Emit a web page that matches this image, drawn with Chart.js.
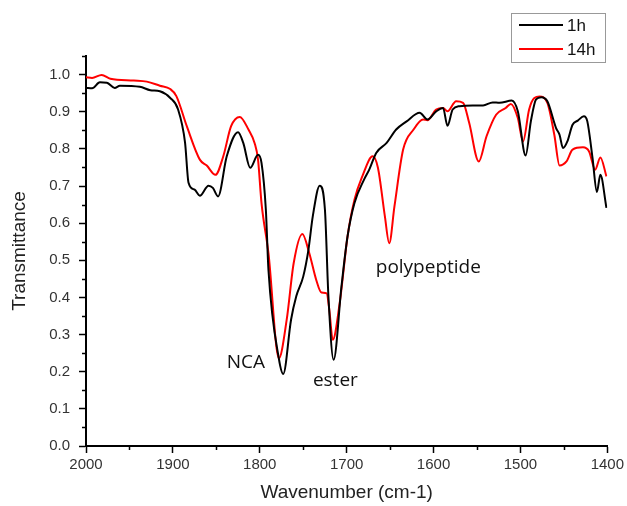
<!DOCTYPE html>
<html>
<head>
<meta charset="utf-8">
<script src="https://cdn.jsdelivr.net/npm/chart.js@4/dist/chart.umd.min.js"></script>
<style>
  html, body { margin: 0; padding: 0; background: #fff; }
  canvas { display: block; }
</style>
</head>
<body>
<canvas id="ir-chart" width="627" height="506"></canvas>
<script>
// wavenumber (cm-1) and transmittance
const wn1h = [2000, 1993, 1984, 1976, 1967, 1961, 1938, 1926, 1915, 1903, 1894, 1886, 1882, 1875, 1869, 1859, 1854, 1848, 1838, 1825, 1819, 1811, 1802, 1798, 1793, 1790, 1778, 1773, 1764, 1758, 1750, 1744, 1739, 1731, 1725, 1721, 1715, 1706, 1699, 1691, 1680, 1674, 1666, 1654, 1643, 1631, 1616, 1607, 1597, 1589, 1584, 1578, 1570, 1555, 1543, 1532, 1524, 1510, 1503, 1494, 1488, 1482, 1476, 1469, 1459, 1455, 1451, 1446, 1440, 1434, 1427, 1423, 1417, 1412, 1408, 1401];
const t1h = [0.964, 0.963, 0.979, 0.978, 0.964, 0.970, 0.967, 0.958, 0.955, 0.937, 0.906, 0.817, 0.709, 0.690, 0.674, 0.701, 0.695, 0.672, 0.780, 0.845, 0.816, 0.749, 0.784, 0.762, 0.636, 0.474, 0.235, 0.194, 0.340, 0.403, 0.456, 0.528, 0.618, 0.701, 0.636, 0.403, 0.232, 0.429, 0.564, 0.654, 0.717, 0.744, 0.789, 0.816, 0.852, 0.874, 0.897, 0.879, 0.901, 0.910, 0.862, 0.906, 0.915, 0.917, 0.917, 0.925, 0.924, 0.930, 0.901, 0.782, 0.874, 0.933, 0.939, 0.928, 0.856, 0.838, 0.802, 0.820, 0.865, 0.876, 0.888, 0.874, 0.775, 0.684, 0.730, 0.641];

const wn14h = [2000, 1993, 1982, 1972, 1945, 1930, 1915, 1903, 1896, 1884, 1869, 1861, 1851, 1842, 1833, 1823, 1813, 1806, 1802, 1798, 1790, 1778, 1769, 1761, 1751, 1743, 1735, 1729, 1723, 1720, 1716, 1708, 1699, 1691, 1682, 1670, 1664, 1656, 1651, 1645, 1635, 1623, 1612, 1607, 1597, 1589, 1584, 1574, 1566, 1559, 1548, 1539, 1528, 1517, 1511, 1503, 1497, 1490, 1484, 1478, 1469, 1461, 1455, 1447, 1440, 1428, 1421, 1414, 1408, 1401];
const t14h = [0.993, 0.991, 0.999, 0.989, 0.984, 0.981, 0.970, 0.961, 0.942, 0.861, 0.771, 0.755, 0.730, 0.780, 0.861, 0.886, 0.852, 0.816, 0.771, 0.654, 0.519, 0.236, 0.340, 0.492, 0.571, 0.519, 0.447, 0.413, 0.411, 0.367, 0.286, 0.385, 0.564, 0.663, 0.726, 0.780, 0.749, 0.618, 0.546, 0.645, 0.798, 0.852, 0.879, 0.877, 0.906, 0.910, 0.901, 0.928, 0.924, 0.870, 0.766, 0.834, 0.892, 0.910, 0.921, 0.883, 0.820, 0.906, 0.937, 0.941, 0.924, 0.838, 0.755, 0.766, 0.798, 0.804, 0.793, 0.744, 0.777, 0.726];

const seriesNames = ['1h', '14h'];
const seriesColors = ['#000000', '#ff0000'];

const annoText = ['NCA', 'ester', 'polypeptide'];
const annoX = [1816, 1713, 1606];
const annoY = [0.224, 0.175, 0.480];

const xMinorTicks = [1950, 1850, 1750, 1650, 1550, 1450];
const yMinorTicks = [0.05, 0.15, 0.25, 0.35, 0.45, 0.55, 0.65, 0.75, 0.85, 0.95, 1.05];

const toPoints = (xs, ys) => xs.map((x, i) => ({ x: x, y: ys[i] }));

const extrasPlugin = {
  id: 'extras',
  afterDraw(chart) {
    const ctx = chart.ctx;
    const xs = chart.scales.x;
    const ys = chart.scales.y;
    const area = chart.chartArea;

    // minor ticks
    ctx.save();
    ctx.strokeStyle = '#000';
    ctx.lineWidth = 1.5;
    ctx.beginPath();
    xMinorTicks.forEach(v => {
      const px = Math.round(xs.getPixelForValue(v)) + 0.5;
      ctx.moveTo(px, area.bottom);
      ctx.lineTo(px, area.bottom + 4);
    });
    yMinorTicks.forEach(v => {
      const py = Math.round(ys.getPixelForValue(v)) + 0.5;
      ctx.moveTo(area.left, py);
      ctx.lineTo(area.left - 4, py);
    });
    ctx.stroke();

    // peak labels
    ctx.fillStyle = '#111';
    ctx.font = '19px "Open Sans"';
    ctx.textAlign = 'center';
    ctx.textBaseline = 'middle';
    annoText.forEach((t, i) => {
      ctx.fillText(t, xs.getPixelForValue(annoX[i]), ys.getPixelForValue(annoY[i]));
    });

    // legend box
    ctx.fillStyle = '#fff';
    ctx.fillRect(511, 13, 94, 49);
    ctx.strokeStyle = '#999';
    ctx.lineWidth = 1;
    ctx.strokeRect(511.5, 13.5, 94, 49);
    ctx.font = '17px "Liberation Sans", Arial, sans-serif';
    ctx.textAlign = 'left';
    seriesNames.forEach((name, i) => {
      const y = 25 + i * 24;
      ctx.strokeStyle = seriesColors[i];
      ctx.lineWidth = 2;
      ctx.beginPath();
      ctx.moveTo(519, y);
      ctx.lineTo(563, y);
      ctx.stroke();
      ctx.fillStyle = '#111';
      ctx.fillText(name, 567, y + 1);
    });
    ctx.restore();
  }
};

const tickFont = { family: '"Liberation Sans", Arial, sans-serif', size: 15 };
const titleFont = { family: '"Liberation Sans", Arial, sans-serif', size: 19 };

new Chart(document.getElementById('ir-chart'), {
  type: 'line',
  data: {
    datasets: [
      {
        label: seriesNames[0],
        data: toPoints(wn1h, t1h),
        borderColor: seriesColors[0],
        backgroundColor: seriesColors[0],
        borderWidth: 2,
        pointRadius: 0,
        cubicInterpolationMode: 'monotone',
        fill: false
      },
      {
        label: seriesNames[1],
        data: toPoints(wn14h, t14h),
        borderColor: seriesColors[1],
        backgroundColor: seriesColors[1],
        borderWidth: 2,
        pointRadius: 0,
        cubicInterpolationMode: 'monotone',
        fill: false
      }
    ]
  },
  options: {
    responsive: false,
    animation: false,
    layout: { padding: { top: 56, right: 19, left: 0, bottom: 0 } },
    plugins: {
      legend: { display: false },
      tooltip: { enabled: false }
    },
    scales: {
      x: {
        type: 'linear',
        reverse: true,
        min: 1400,
        max: 2000,
        afterFit: scale => { scale.height = 60; },
        border: { color: '#000', width: 2 },
        grid: { drawOnChartArea: false, drawTicks: true, tickLength: 7, tickColor: '#000', tickWidth: 1.5 },
        ticks: { stepSize: 100, color: '#333', font: tickFont, padding: 3, maxRotation: 0, callback: v => String(v) },
        title: { display: true, text: 'Wavenumber (cm-1)', color: '#222', font: titleFont, padding: { top: 2, bottom: 2 } }
      },
      y: {
        min: 0,
        max: 1.05,
        afterFit: scale => { scale.width = 86; },
        afterBuildTicks: scale => { scale.ticks = scale.ticks.filter(t => t.value <= 1.0001); },
        border: { color: '#000', width: 2 },
        grid: { drawOnChartArea: false, drawTicks: true, tickLength: 7, tickColor: '#000', tickWidth: 1.5 },
        ticks: { stepSize: 0.1, color: '#333', font: tickFont, padding: 9, callback: v => v.toFixed(1) },
        title: { display: true, text: 'Transmittance', color: '#222', font: titleFont, padding: { top: 8, bottom: 0 } }
      }
    }
  },
  plugins: [extrasPlugin]
});
</script>
</body>
</html>
